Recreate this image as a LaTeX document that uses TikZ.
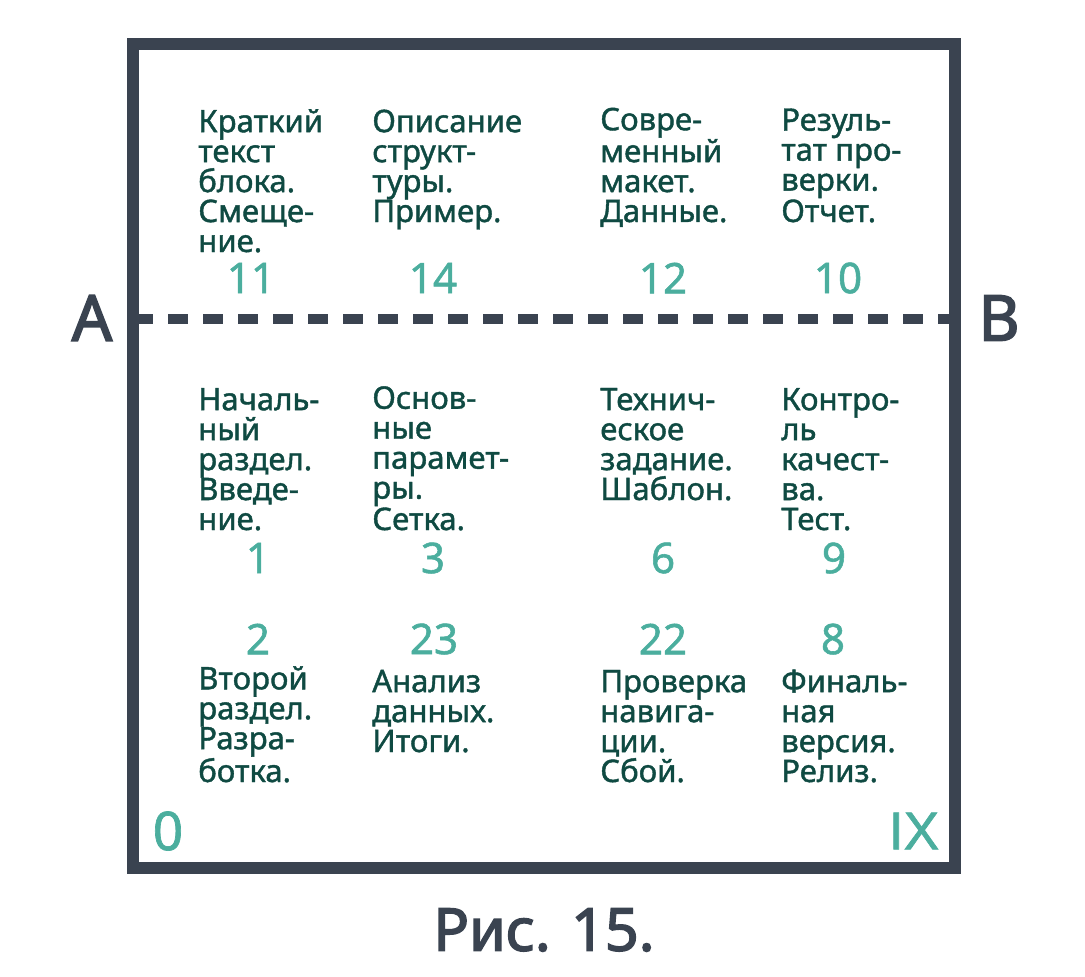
\documentclass[tikz,border=0pt]{standalone}
\usepackage{fontspec}
\setmainfont{Noto Sans}
\newfontfamily\medium{Noto Sans}[FakeBold=1.3]
\newfontfamily\heavy{Noto Sans}[FakeBold=2.6]
\newfontfamily\plain{Liberation Sans}[FakeBold=1.3]
\definecolor{slate}{HTML}{3A4350}
\definecolor{ink}{HTML}{0F4A42}
\definecolor{mint}{HTML}{4BAE9E}
\begin{document}
\begin{tikzpicture}[x=0.025cm,y=-0.025cm,
    txt/.style={anchor=base west,align=left,inner sep=0,text=ink,font=\medium\fontsize{22.1}{21.3}\selectfont},
    num/.style={inner sep=0,text=mint,font=\medium\fontsize{30}{30}\selectfont},
    corner/.style={inner sep=0,text=mint,font=\medium\fontsize{38}{38}\selectfont},
    side/.style={inner sep=0,text=slate,font=\heavy\fontsize{45}{45}\selectfont},
    frame/.style={draw=slate,line width=8.9pt},
    cut/.style={draw=slate,line width=7.4pt,dash pattern=on 14.2pt off 10.7pt}]
      \useasboundingbox (0,0) rectangle (1085,976);
      \draw[frame] (133,44) rectangle (955,868);
      \coordinate (l) at (133,319);
      \coordinate (r) at (955,319);
      \draw[cut] (l) -- (r);
      \node[side] (a) at (92,318) {A};
      \node[side] (b) at (999,318) {B};
      \node[txt] (t11) at (198,252) {Краткий\\текст\\блока.\\Смеще-\\ние.};
      \node[txt] (t14) at (372,222) {Описание\\структ-\\туры.\\Пример.};
      \node[txt] (t12) at (600,222) {Совре-\\менный\\макет.\\Данные.};
      \node[txt] (t10) at (781,222) {Резуль-\\тат про-\\верки.\\Отчет.};
      \node[num] (n11) at (251,278) {11};
      \node[num] (n14) at (433,278) {14};
      \node[num] (n12) at (663,278) {12};
      \node[num] (n10) at (838,278) {10};
      \node[txt] (t1) at (198,530) {Началь-\\ный\\раздел.\\Введе-\\ние.};
      \node[txt] (t3) at (372,530) {Основ-\\ные\\парамет-\\ры.\\Сетка.};
      \node[txt] (t6) at (600,500) {Технич-\\еское\\задание.\\Шаблон.};
      \node[txt] (t9) at (781,530) {Контро-\\ль\\качест-\\ва.\\Тест.};
      \node[num] (n1) at (258,558) {1};
      \node[num] (n3) at (433,558) {3};
      \node[num] (n6) at (663,558) {6};
      \node[num] (n9) at (834,558) {9};
      \node[num] (n2) at (258,639) {2};
      \node[num] (n23) at (434,639) {23};
      \node[num] (n22) at (663,639) {22};
      \node[num] (n8) at (833,639) {8};
      \node[txt] (t2) at (198,782) {Второй\\раздел.\\Разра-\\ботка.};
      \node[txt] (t23) at (372,752) {Анализ\\данных.\\Итоги.};
      \node[txt] (t22) at (600,782) {Проверка\\навига-\\ции.\\Сбой.};
      \node[txt] (t8) at (781,782) {Финаль-\\ная\\версия.\\Релиз.};
      \node[corner] (o) at (168,831) {0};
      \node[corner,font=\plain\fontsize{38}{38}\selectfont] (ix) at (914,831) {IX};
      \node[side,font=\heavy\fontsize{42}{42}\selectfont] (fig) at (544,930) {Рис. 15.};
    \end{tikzpicture}
\end{document}
